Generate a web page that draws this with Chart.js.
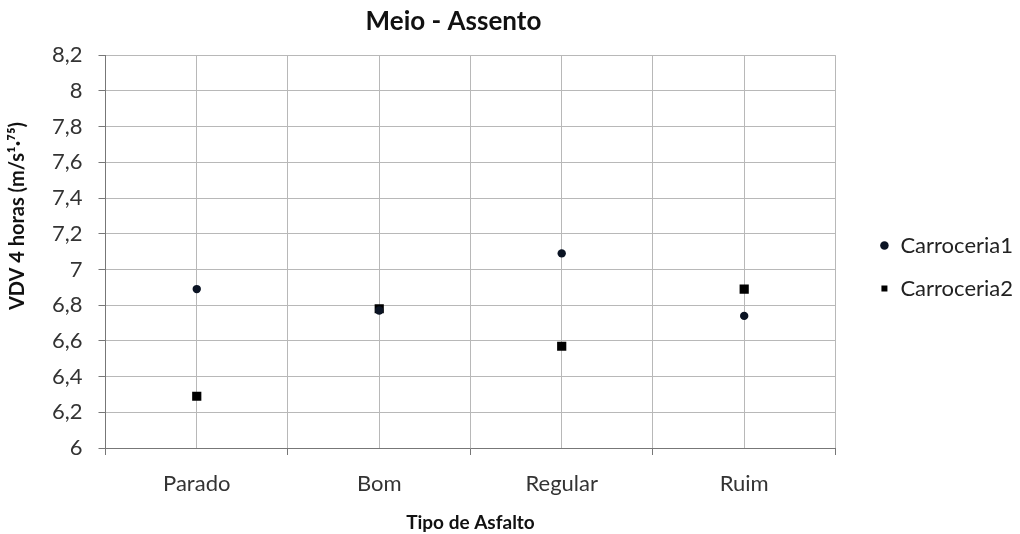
<!DOCTYPE html>
<html>
<head>
<meta charset="utf-8">
<script src="https://cdn.jsdelivr.net/npm/chart.js@4/dist/chart.umd.min.js"></script>
<style>
  html, body { margin: 0; padding: 0; background: #fff; }
  #wrap { width: 1020px; height: 534px; }
</style>
</head>
<body>
<div id="wrap"><canvas id="chart" width="1020" height="534"></canvas></div>
<script>
// categories and series
const categories = ['Parado', 'Bom', 'Regular', 'Ruim'];
const carroceria1 = [6.89, 6.77, 7.09, 6.74];
const carroceria2 = [6.29, 6.78, 6.57, 6.89];
const yMin = 6, yMax = 8.2, yStep = 0.2;
const yTitleText = 'VDV 4 horas (m/s¹·⁷⁵)';

const toPoints = vals => vals.map((v, i) => ({ x: i, y: v }));
const fmt = v => String(Number(v.toFixed(1))).replace('.', ',');
const FONT = "Lato, 'Open Sans', sans-serif";

// nudge legend and title a little, like the Excel layout
const boxShift = {
    id: 'boxShift',
    afterLayout(chart) {
        const lg = chart.legend;
        if (lg) { lg.left += 23; lg.right += 23; }
        const tb = chart.titleBlock;
        if (tb) { tb.left -= 17; tb.right -= 17; }
    }
};

// y axis title sits above the middle in the original, so draw it here
const yTitle = {
    id: 'yTitle',
    afterDraw(chart) {
        const ctx = chart.ctx;
        ctx.save();
        ctx.translate(18, 216);
        ctx.rotate(-Math.PI / 2);
        ctx.font = 'bold 20px ' + FONT;
        ctx.fillStyle = '#111';
        ctx.textAlign = 'center';
        ctx.textBaseline = 'middle';
        ctx.fillText(yTitleText, 0, 0);
        ctx.restore();
    }
};

new Chart(document.getElementById('chart').getContext('2d'), {
    type: 'scatter',
    plugins: [boxShift, yTitle],
    data: {
        datasets: [
            {
                label: 'Carroceria1',
                data: toPoints(carroceria1),
                pointStyle: 'circle',
                pointRadius: 4.2,
                pointHoverRadius: 4.2,
                backgroundColor: '#0b1424',
                borderColor: '#0b1424',
                borderWidth: 0
            },
            {
                label: 'Carroceria2',
                data: toPoints(carroceria2),
                pointStyle: 'rect',
                pointRadius: 6.5,
                pointHoverRadius: 6.5,
                backgroundColor: '#000',
                borderColor: '#000',
                borderWidth: 0
            }
        ]
    },
    options: {
        responsive: false,
        animation: false,
        layout: { padding: { left: 36, right: 20, top: 0, bottom: 0 } },
        plugins: {
            title: {
                display: true,
                fullSize: false,
                text: 'Meio - Assento',
                color: '#111',
                font: { family: FONT, size: 26, weight: 'bold' },
                padding: { top: 6, bottom: 18 }
            },
            legend: {
                position: 'right',
                labels: {
                    usePointStyle: true,
                    boxWidth: 10,
                    boxHeight: 6,
                    color: '#222',
                    font: { family: FONT, size: 22 },
                    padding: 21
                }
            },
            tooltip: { enabled: false }
        },
        scales: {
            x: {
                type: 'linear',
                min: -0.5,
                max: categories.length - 0.5,
                title: {
                    display: true,
                    text: 'Tipo de Asfalto',
                    color: '#111',
                    font: { family: FONT, size: 19, weight: 'bold', lineHeight: 1 },
                    padding: { top: 0, bottom: 2 }
                },
                ticks: {
                    stepSize: 0.5,
                    autoSkip: false,
                    maxRotation: 0,
                    color: '#333',
                    font: { family: FONT, size: 22, lineHeight: 1 },
                    padding: 18,
                    callback: v => Number.isInteger(v) ? categories[v] : ''
                },
                grid: {
                    color: '#b8b8b8',
                    lineWidth: 1,
                    tickLength: 7,
                    tickColor: ctx => (ctx.tick && Number.isInteger(ctx.tick.value)) ? 'rgba(0,0,0,0)' : '#777'
                },
                border: { color: '#777', width: 1 }
            },
            y: {
                min: yMin,
                max: yMax,
                ticks: {
                    stepSize: yStep,
                    color: '#333',
                    font: { family: FONT, size: 22 },
                    padding: 16,
                    callback: v => fmt(v)
                },
                grid: {
                    color: '#b8b8b8',
                    lineWidth: 1,
                    tickLength: 7,
                    tickColor: '#777'
                },
                border: { color: '#777', width: 1 }
            }
        }
    }
});
</script>
</body>
</html>
